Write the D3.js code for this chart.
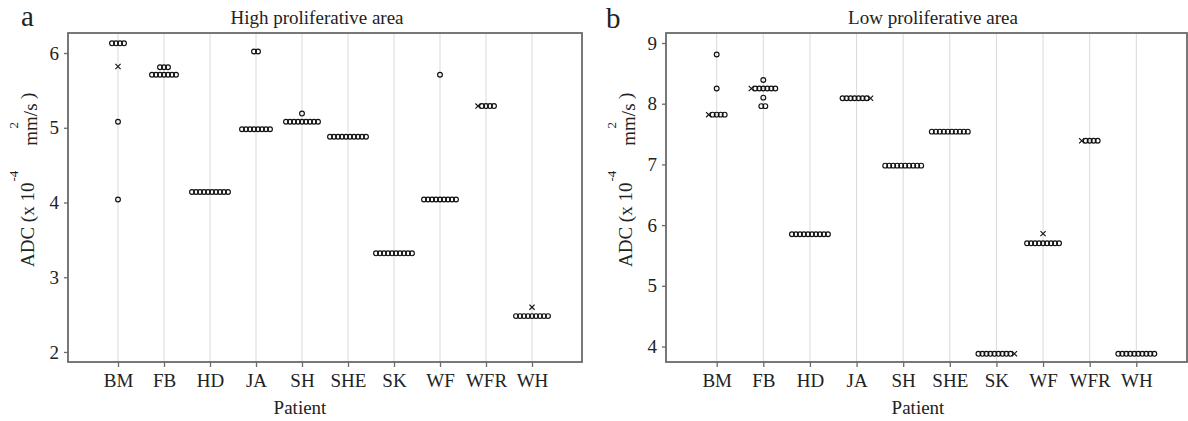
<!DOCTYPE html>
<html lang="en">
<head>
<meta charset="utf-8">
<title>ADC by patient</title>
<script src="https://d3js.org/d3.v7.min.js"></script>
<style>
  body { margin: 0; background: #fff; }
  svg text { font-family: "Liberation Serif", "Times New Roman", serif; fill: #222; }
</style>
</head>
<body>
<div id="chart"></div>
<script>
// patients on the x axis
const patients = ["BM", "FB", "HD", "JA", "SH", "SHE", "SK", "WF", "WFR", "WH"];

// [value, number of observations, marker] per patient, left to right inside a row
const highRows = [
  [[6.13, 4, "o"], [5.82, 1, "x"], [5.08, 1, "o"], [4.04, 1, "o"]],
  [[5.81, 3, "o"], [5.71, 7, "o"]],
  [[4.14, 10, "o"]],
  [[6.02, 2, "o"], [4.98, 8, "o"]],
  [[5.19, 1, "o"], [5.08, 9, "o"]],
  [[4.88, 10, "o"]],
  [[3.32, 10, "o"]],
  [[5.71, 1, "o"], [4.04, 9, "o"]],
  [[5.29, 1, "x"], [5.29, 4, "o"]],
  [[2.60, 1, "x"], [2.48, 9, "o"]]
];
const lowRows = [
  [[8.81, 1, "o"], [8.25, 1, "o"], [7.82, 1, "x"], [7.82, 4, "o"]],
  [[8.39, 1, "o"], [8.25, 1, "x"], [8.25, 6, "o"], [8.10, 1, "o"], [7.96, 2, "o"]],
  [[5.85, 10, "o"]],
  [[8.09, 7, "o"], [8.09, 1, "x"]],
  [[6.98, 10, "o"]],
  [[7.54, 10, "o"]],
  [[3.88, 9, "o"], [3.88, 1, "x"]],
  [[5.86, 1, "x"], [5.70, 9, "o"]],
  [[7.39, 1, "x"], [7.39, 4, "o"]],
  [[3.88, 10, "o"]]
];

const highTicks = [2, 3, 4, 5, 6];
const lowTicks = [4, 5, 6, 7, 8, 9];

const width = 1188, height = 421;
const frameColor = "#6a6a6a";
const dotStep = 4, dotR = 2.4;

const svg = d3.select("#chart").append("svg")
  .attr("width", width).attr("height", height);

function drawPanel(opt) {
  const g = svg.append("g");

  const x = d3.scalePoint().domain(patients)
    .range([opt.left, opt.right]).padding(1.087);
  const y = d3.scaleLinear().domain(opt.domain).range([opt.bottom, opt.top]);

  // vertical grid lines
  g.selectAll("line.grid").data(patients).enter().append("line")
    .attr("class", "grid")
    .attr("x1", d => x(d)).attr("x2", d => x(d))
    .attr("y1", opt.top).attr("y2", opt.bottom)
    .attr("stroke", "#dadada").attr("stroke-width", 1);

  // frame
  g.append("rect")
    .attr("x", opt.left).attr("y", opt.top)
    .attr("width", opt.right - opt.left).attr("height", opt.bottom - opt.top)
    .attr("fill", "none").attr("stroke", frameColor).attr("stroke-width", 1.8);

  // axes
  const yAxis = g.append("g")
    .attr("transform", "translate(" + opt.left + ",0)")
    .call(d3.axisLeft(y).tickValues(opt.ticks).tickSize(4).tickPadding(5).tickFormat(d3.format("d")));
  const xAxis = g.append("g")
    .attr("transform", "translate(0," + opt.bottom + ")")
    .call(d3.axisBottom(x).tickSize(5).tickPadding(7));
  [xAxis, yAxis].forEach(a => {
    a.select(".domain").remove();
    a.selectAll(".tick line").attr("stroke", frameColor).attr("stroke-width", 1.3);
    a.selectAll(".tick text").attr("font-size", 19).attr("fill", "#222");
  });

  // dots: spread observations with the same value side by side
  const points = [];
  opt.rows.forEach((rows, i) => {
    const slots = [];
    rows.forEach(r => { for (let k = 0; k < r[1]; k++) slots.push({ v: r[0], m: r[2] }); });
    const byValue = d3.group(slots, d => d.v);
    byValue.forEach(list => {
      const n = list.length;
      list.forEach((d, j) => points.push({
        patient: patients[i], v: d.v, m: d.m, off: (j - (n - 1) / 2) * dotStep
      }));
    });
  });

  g.selectAll("circle.dot").data(points.filter(d => d.m === "o")).enter().append("circle")
    .attr("class", "dot")
    .attr("cx", d => x(d.patient) + d.off).attr("cy", d => y(d.v))
    .attr("r", dotR).attr("fill", "none").attr("stroke", "#111").attr("stroke-width", 1.15);

  g.selectAll("path.cross").data(points.filter(d => d.m === "x")).enter().append("path")
    .attr("class", "cross")
    .attr("d", d => {
      const cx = x(d.patient) + d.off, cy = y(d.v), s = 2.6;
      return `M${cx - s},${cy - s}L${cx + s},${cy + s}M${cx - s},${cy + s}L${cx + s},${cy - s}`;
    })
    .attr("stroke", "#111").attr("stroke-width", 1.1);

  // titles and labels
  g.append("text").attr("x", opt.titleX).attr("y", 24)
    .attr("text-anchor", "middle").attr("font-size", 19).text(opt.title);
  g.append("text").attr("x", opt.letterX).attr("y", opt.letterY)
    .attr("font-size", 29).text(opt.letter);
  g.append("text").attr("x", opt.patientX).attr("y", 414)
    .attr("text-anchor", "middle").attr("font-size", 19).text("Patient");

  // y label, written bottom-up from the lower end
  const yl = g.append("text")
    .attr("transform", "translate(" + (opt.left - 34) + "," + 267 + ") rotate(-90)")
    .attr("font-size", 19);
  yl.append("tspan").text("ADC (x 10");
  yl.append("tspan").attr("dx", 1).attr("dy", -16).attr("font-size", 13).text("-4");
  yl.append("tspan").attr("dx", 25).attr("dy", 19).text("mm/s");
  yl.append("tspan").attr("dx", -25).attr("dy", -19).attr("font-size", 13).text("2");
  yl.append("tspan").attr("dx", 23).attr("dy", 16).text(")");
}

drawPanel({
  left: 68, right: 582, top: 33, bottom: 362,
  domain: [1.866, 6.268], ticks: highTicks, rows: highRows,
  title: "High proliferative area", titleX: 317,
  letter: "a", letterX: 21, letterY: 26, patientX: 300
});
drawPanel({
  left: 666, right: 1187, top: 33, bottom: 362,
  domain: [3.745, 9.165], ticks: lowTicks, rows: lowRows,
  title: "Low proliferative area", titleX: 933,
  letter: "b", letterX: 606, letterY: 28, patientX: 918
});
</script>
</body>
</html>
